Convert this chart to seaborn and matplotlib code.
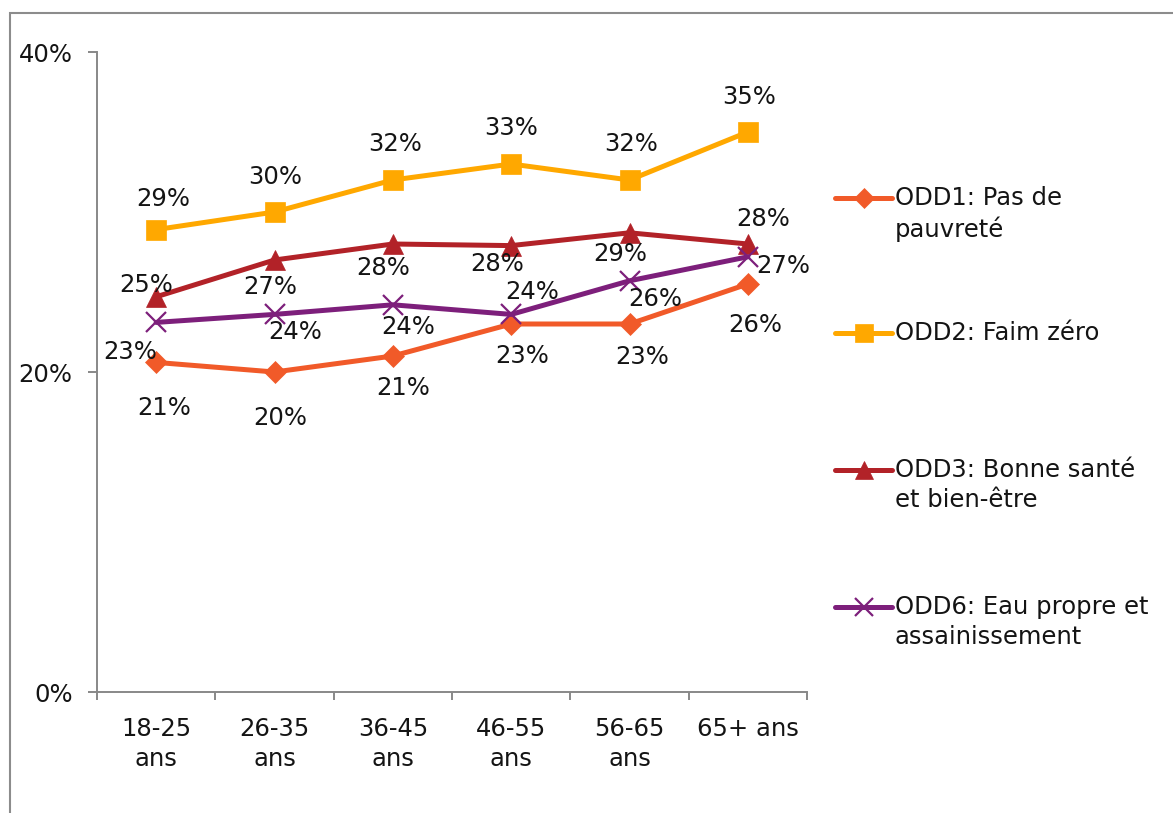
import numpy as np
import pandas as pd
import matplotlib
matplotlib.use("Agg")
import matplotlib.pyplot as plt
import seaborn as sns
from matplotlib.lines import Line2D
from matplotlib.patches import Rectangle

# ---- data -------------------------------------------------------------
age_groups = ["18-25\nans", "26-35\nans", "36-45\nans", "46-55\nans", "56-65\nans", "65+ ans"]
odd1 = [20.6, 20.0, 21.0, 23.0, 23.0, 25.5]
odd2 = [28.9, 30.0, 32.0, 33.0, 32.0, 35.0]
odd3 = [24.7, 27.0, 28.0, 27.9, 28.7, 28.0]
odd6 = [23.1, 23.6, 24.2, 23.6, 25.7, 27.2]
series_names = ["ODD1: Pas de\npauvreté", "ODD2: Faim zéro",
                "ODD3: Bonne santé\net bien-être", "ODD6: Eau propre et\nassainissement"]
y_ticks = [0, 20, 40]

# ---- styling ----------------------------------------------------------
colors = ["#F15A29", "#FFA800", "#B22228", "#7D1F7B"]
markers = ["D", "s", "^", "x"]
marker_sizes = [11.5, 14.5, 14.5, 14.5]
# data-label offsets in pixels (dx, dy), one row per series
label_offsets = [
    [(8, -46), (6, -46), (10, -32), (11, -32), (13, -33), (7, -41)],
    [(7, 31), (1, 35), (2, 36), (0, 36), (2, 36), (1, 35)],
    [(-10, 12), (-4, -27), (-10, -24), (-14, -18), (-9, -21), (15, 25)],
    [(-26, -30), (21, -18), (15, -22), (21, 22), (26, -18), (35, -9)],
]

sns.set_theme(style="white")
plt.rcParams["font.family"] = ["DejaVu Sans"]
FS = 17.5
TXT = "#141414"
GREY = "#888888"

W, H = 1173, 813
fig = plt.figure(figsize=(W / 100, H / 100), dpi=100)
ax = fig.add_axes([97 / W, 1 - 692 / H, (807 - 97) / W, (692 - 52) / H])

x_pos = np.arange(len(age_groups))
all_series = [odd1, odd2, odd3, odd6]
for name, vals, col, mk, ms in zip(series_names, all_series, colors, markers, marker_sizes):
    df = pd.DataFrame({"x": x_pos, "y": vals})
    sns.lineplot(data=df, x="x", y="y", ax=ax, color=col, lw=3.6,
                 marker=mk, markersize=ms, markeredgecolor=col,
                 markeredgewidth=1.6 if mk == "x" else 0.5, legend=False)

for vals, offs in zip(all_series, label_offsets):
    for xi, v, (dx, dy) in zip(x_pos, vals, offs):
        ax.annotate(f"{int(np.floor(v + 0.5))}%", (xi, v), xytext=(dx, dy),
                    textcoords="offset pixels", ha="center", va="center",
                    fontsize=FS, color=TXT)

ax.set_xlim(-0.5, len(age_groups) - 0.5)
ax.set_ylim(0, 40)
ax.set_yticks(y_ticks)
ax.set_yticklabels([f"{t}%" for t in y_ticks], fontsize=FS, color=TXT)
ax.set_xticks(x_pos)
ax.set_xticklabels(age_groups, fontsize=FS, color=TXT, linespacing=1.3)
ax.set_xticks(np.arange(len(age_groups) + 1) - 0.5, minor=True)
ax.tick_params(axis="x", which="major", length=0, pad=18)
ax.tick_params(axis="x", which="minor", length=6, width=1.4, color=GREY, direction="out", bottom=True)
ax.tick_params(axis="y", length=6.5, width=1.4, color=GREY, direction="out", pad=11, left=True)
ax.set_xlabel("")
ax.set_ylabel("")
for side in ["top", "right"]:
    ax.spines[side].set_visible(False)
for side in ["left", "bottom"]:
    ax.spines[side].set_color(GREY)
    ax.spines[side].set_linewidth(1.4)
ax.grid(False)

# legend at the right, handle aligned with the first text line
leg_y = [198, 333, 470, 607]
for name, col, mk, ms, ly in zip(series_names, colors, markers, marker_sizes, leg_y):
    yf = 1 - ly / H
    fig.add_artist(Line2D([835 / W, 892 / W], [yf, yf], transform=fig.transFigure,
                          color=col, lw=3.6, solid_capstyle="round"))
    fig.add_artist(Line2D([863.5 / W], [yf], transform=fig.transFigure, color=col,
                          marker=mk, markersize=ms * 0.85, markeredgecolor=col,
                          markeredgewidth=1.6 if mk == "x" else 0.5, lw=0))
    fig.text(895 / W, 1 - (ly - 12) / H, name, fontsize=FS, color=TXT,
             ha="left", va="top", linespacing=1.32)

# chart-area border
fig.add_artist(Rectangle((10 / W, -0.2), 1.5, 1.2 - 13 / H, transform=fig.transFigure,
                         fill=False, ec="#8c8c8c", lw=1.5))

fig.savefig("out.png", dpi=100)
